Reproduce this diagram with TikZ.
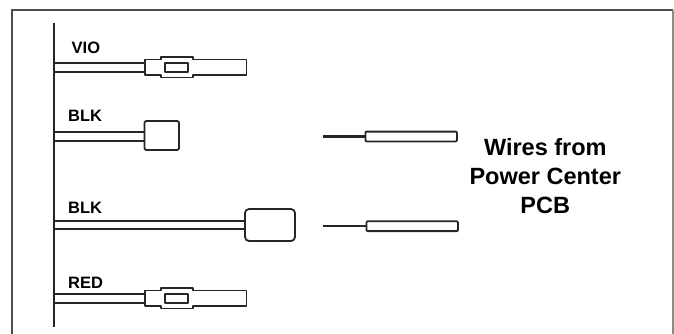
\documentclass[tikz,border=0pt]{standalone}
\usepackage{fontspec}
\setmainfont{Liberation Sans}
\tikzset{
  x=1pt,y=-1pt,
  wireline/.style={line width=1.8pt,draw=black!85,line join=round},
  conn/.style={line width=1.8pt,draw=black!85,fill=white,line join=round},
  tailline/.style={line width=2.5pt,draw=black!85},
  wirelabel/.style={font=\bfseries\fontsize{16.5}{18}\selectfont,anchor=base west,inner sep=0pt},
  bigtext/.style={font=\bfseries\fontsize{23.5}{29}\selectfont,align=center,inner sep=0pt}
}
\newcommand{\spadeconn}[1]{%
  \draw[wireline] (54,#1-4.5) -- (145,#1-4.5) (54,#1+4.5) -- (145,#1+4.5) (54,#1-4.5) -- (54,#1+4.5);
  \draw[conn] (145,#1-7.7) -- (161.3,#1-7.7) -- (161.3,#1-10.3) -- (192.7,#1-10.3) -- (192.7,#1-7.7) -- (246.5,#1-7.7) -- (246.5,#1+7.7) -- (192.7,#1+7.7) -- (192.7,#1+10.3) -- (161.3,#1+10.3) -- (161.3,#1+7.7) -- (145,#1+7.7) -- cycle;
  \draw[conn] (164.7,#1-4.5) rectangle (188,#1+4.5);
}
\begin{document}
\begin{tikzpicture}
\useasboundingbox (0,0) rectangle (674,334);
\fill[white] (0,0) rectangle (674,334);
\draw[line width=2pt,draw=black!70] (673,10) -- (11.7,10) -- (11.7,334);
\draw[line width=1.3pt,draw=black!45] (673,10) -- (673,334);
\coordinate (bt) at (54,23);
\coordinate (bb) at (54,327);
\draw[line width=1.6pt,draw=black!85] (bt) -- (bb);
\spadeconn{67.2}
\draw[wireline] (54,132.3) -- (145,132.3) (54,141) -- (145,141) (54,132.3) -- (54,141);
\draw[conn,rounded corners=2pt] (144.5,121) rectangle (179,150);
\draw[wireline] (54,221) -- (245,221) (54,229.3) -- (245,229.3);
\draw[conn,rounded corners=4pt] (245,209) rectangle (295,241);
\spadeconn{298.2}
\node[wirelabel] (l1) at (71.5,53.5) {VIO};
\node[wirelabel] (l2) at (68,121.5) {BLK};
\node[wirelabel] (l3) at (68,213.5) {BLK};
\node[wirelabel] (l4) at (68,288) {RED};
\coordinate (p1) at (323,136.5);
\node[conn,rounded corners=1pt,minimum width=91.5pt,minimum height=9.8pt,inner sep=0pt,anchor=west] (t1) at (364.5,136.5) {};
\draw[tailline] (p1) -- (t1.west);
\coordinate (p2) at (323,226.2);
\node[conn,rounded corners=1pt,minimum width=91.5pt,minimum height=9.8pt,inner sep=0pt,anchor=west] (t2) at (365.5,226.2) {};
\draw[tailline] (p2) -- (t2.west);
\node[bigtext] (cap) at (545.3,176.3) {Wires from\\Power Center\\PCB};
\end{tikzpicture}
\end{document}
